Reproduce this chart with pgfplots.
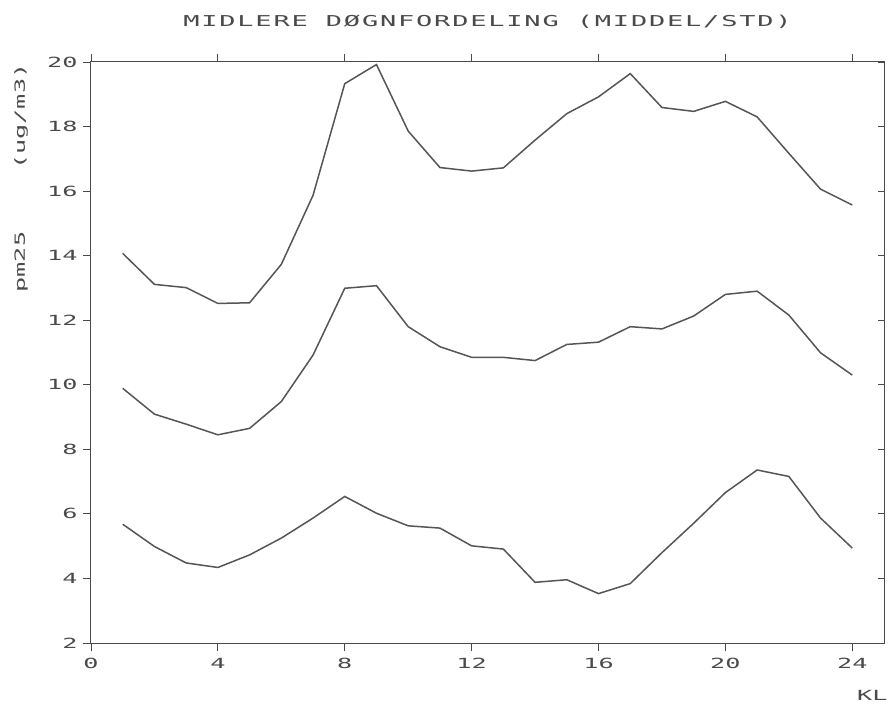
\documentclass[border=0pt]{standalone}
\usepackage{pgfplots}
\pgfplotsset{compat=1.18}
\usepackage{fontspec}
\setmainfont{DejaVu Sans Mono}
\newfontfamily\pf[FakeStretch=1.8]{DejaVu Sans Mono}
\newfontfamily\pft[FakeStretch=1.8,LetterSpace=12]{DejaVu Sans Mono}
\definecolor{ink}{HTML}{4A4A4A}
\definecolor{lineink}{HTML}{555555}
\begin{document}
\begin{tikzpicture}[x=1pt,y=1pt]
\useasboundingbox (-91,-66) rectangle (797,643);
\begin{axis}[
  at={(0,0)}, anchor=south west, scale only axis,
  width=793pt, height=581pt,
  xmin=0, xmax=25, ymin=2, ymax=20,
  xtick={0,4,...,24}, ytick={2,4,...,20},
  tick align=outside, xtick pos=both, ytick pos=left,
  xticklabel pos=lower,
  major tick length=8pt,
  axis line style={ink, line width=1pt},
  tick style={ink, line width=0.9pt},
  tick label style={font=\pf\fontsize{14}{14}\selectfont, text=ink},
  /pgf/number format/assume math mode=true,
  xticklabel style={yshift=-4pt},
  yticklabel style={xshift=-2pt},
  title={MIDLERE DØGNFORDELING (MIDDEL/STD)},
  title style={font=\pft\fontsize{15}{15}\selectfont, text=ink, at={(0.5,1)}, anchor=center, yshift=34pt},
  ylabel={pm25\hspace{62pt}(ug/m3)},
  ylabel style={font=\pf\fontsize{14}{14}\selectfont, text=ink, at={(rel axis cs:0,1)}, anchor=east, yshift=70pt, xshift=2pt},
  xlabel={KL},
  xlabel style={font=\pf\fontsize{14}{14}\selectfont, text=ink, at={(rel axis cs:1,0)}, anchor=east, yshift=-52pt, xshift=7pt},
]
\addplot[lineink, line width=1.5pt] coordinates {
(1,14.07)(2,13.11)(3,13.01)(4,12.52)(5,12.54)(6,13.73)(7,15.87)(8,19.33)
(9,19.92)(10,17.86)(11,16.73)(12,16.62)(13,16.72)(14,17.58)(15,18.40)(16,18.92)
(17,19.64)(18,18.59)(19,18.47)(20,18.78)(21,18.30)(22,17.17)(23,16.06)(24,15.57)};
\addplot[lineink, line width=1.5pt] coordinates {
(1,9.89)(2,9.09)(3,8.78)(4,8.45)(5,8.65)(6,9.48)(7,10.92)(8,12.99)
(9,13.07)(10,11.80)(11,11.18)(12,10.85)(13,10.85)(14,10.75)(15,11.25)(16,11.32)
(17,11.80)(18,11.73)(19,12.13)(20,12.80)(21,12.90)(22,12.16)(23,10.99)(24,10.30)};
\addplot[lineink, line width=1.5pt] coordinates {
(1,5.68)(2,4.99)(3,4.48)(4,4.34)(5,4.73)(6,5.25)(7,5.87)(8,6.54)
(9,6.02)(10,5.63)(11,5.56)(12,5.01)(13,4.91)(14,3.88)(15,3.96)(16,3.53)
(17,3.84)(18,4.80)(19,5.71)(20,6.66)(21,7.36)(22,7.16)(23,5.87)(24,4.94)};
\end{axis}
\begin{axis}[
  at={(0,0)}, anchor=south west, scale only axis,
  width=793pt, height=581pt,
  xmin=0, xmax=25, ymin=2, ymax=20,
  axis line style={draw=none},
  xtick=\empty, ytick={2,4,...,20}, yticklabels={},
  ytick pos=right, tick align=inside,
  major tick length=6pt,
  tick style={ink, line width=0.9pt},
]
\end{axis}
\end{tikzpicture}
\end{document}
